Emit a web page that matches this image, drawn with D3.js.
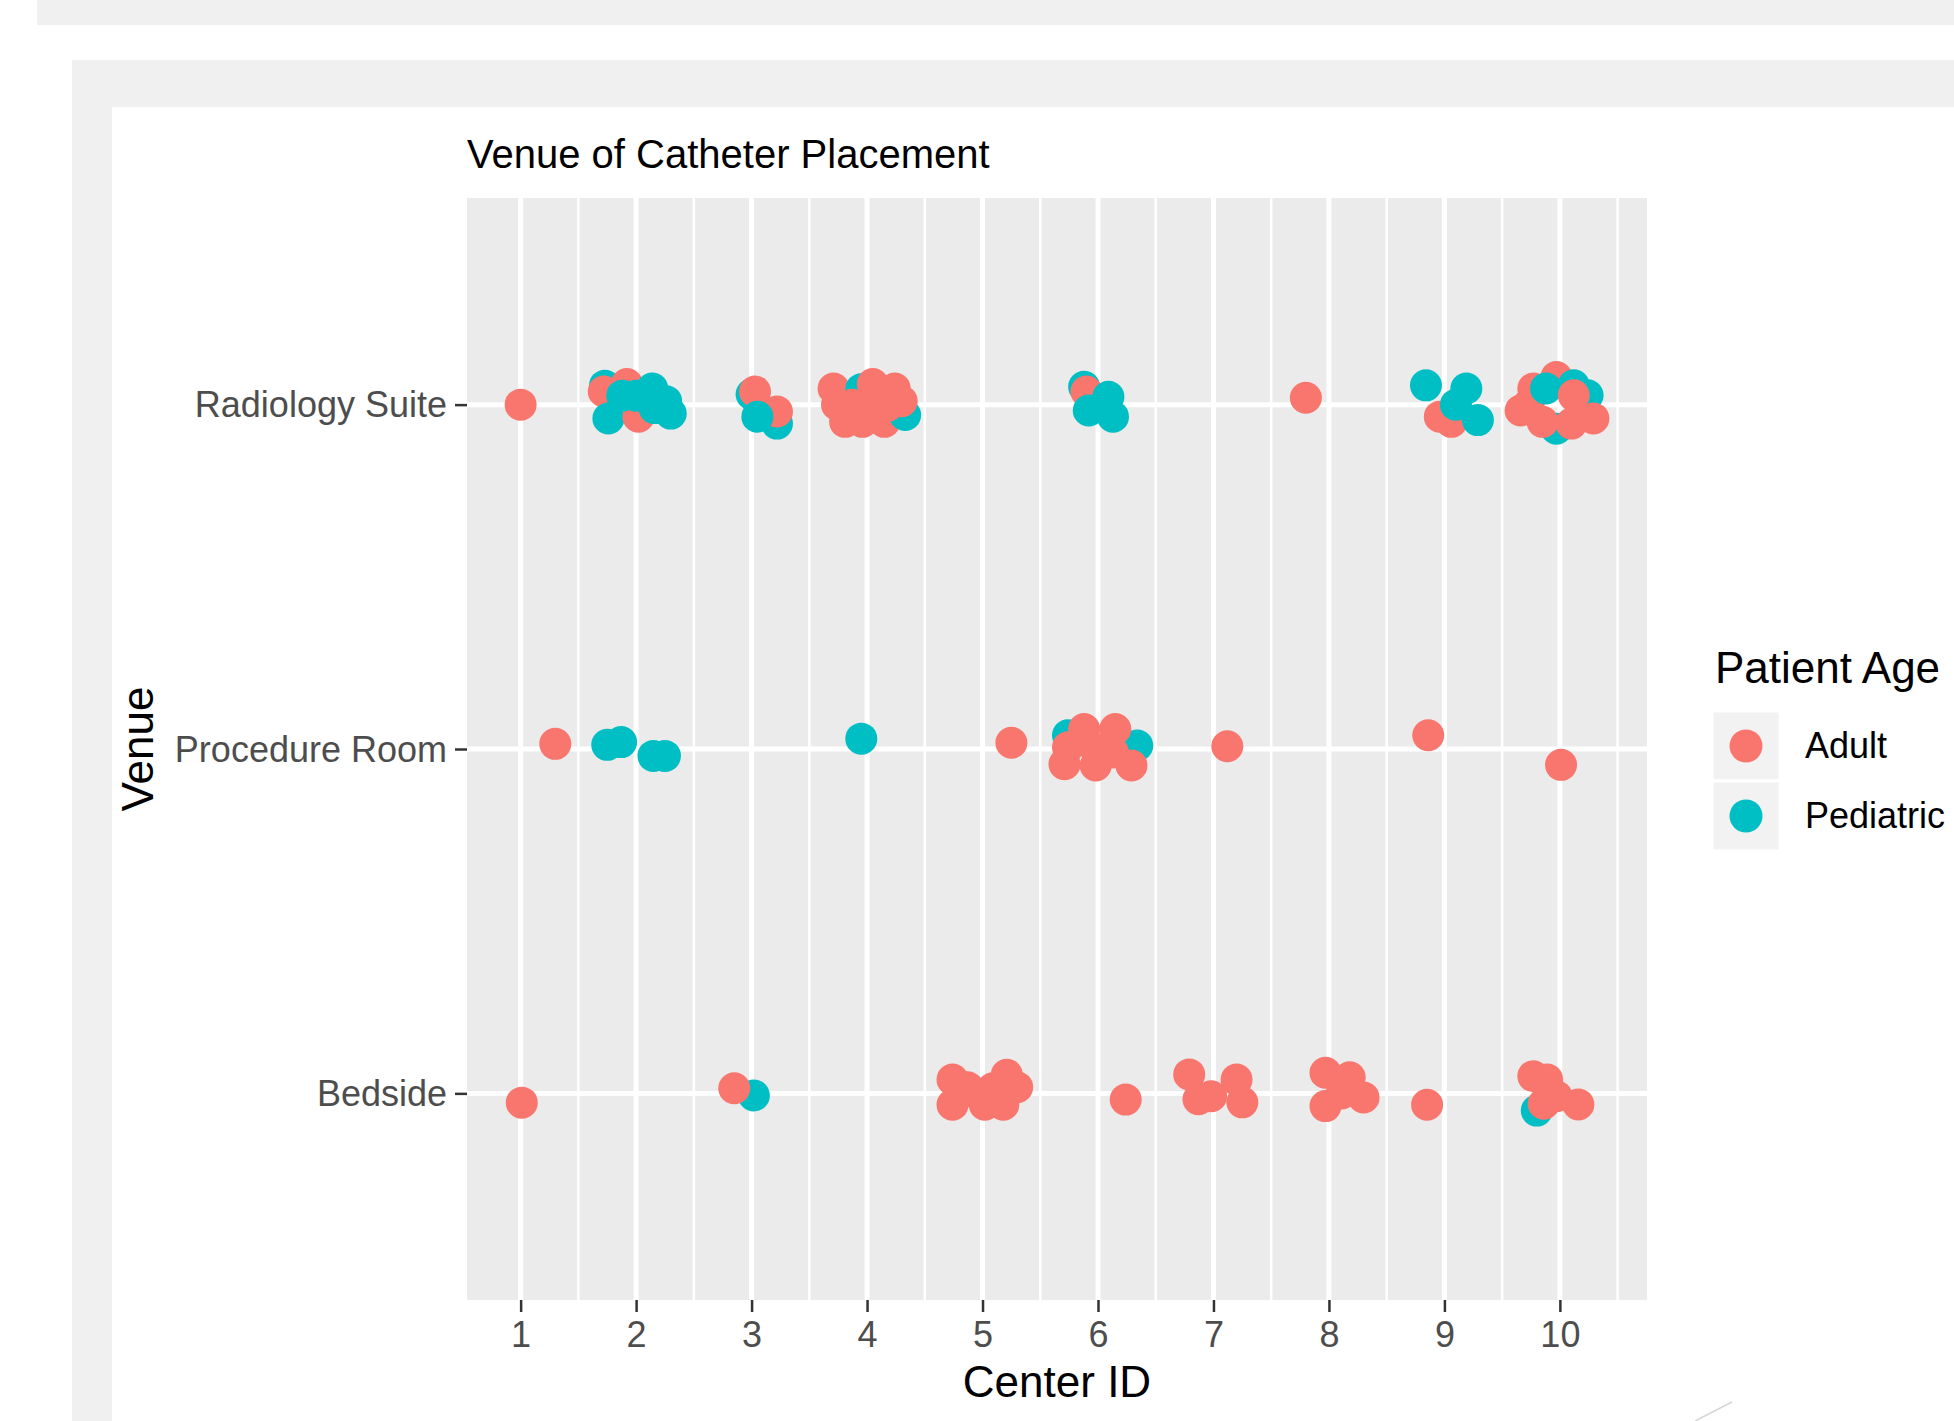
<!DOCTYPE html>
<html>
<head>
<meta charset="utf-8">
<script src="https://cdn.jsdelivr.net/npm/d3@7"></script>
<style>
body { margin: 0; background: #ffffff; }
text { font-family: "Liberation Sans", Arial, sans-serif; }
</style>
</head>
<body>
<svg id="svg1" width="1954" height="1421"></svg>
<script>
var A = 'Adult', P = 'Pediatric';

var venues = ['Bedside', 'Procedure Room', 'Radiology Suite'];
var ageGroups = [A, P];
var centerTicks = [1, 2, 3, 4, 5, 6, 7, 8, 9, 10];

// [jittered center id, vertical jitter, patient age] in drawing order
var radiologyPoints = [
    [1.00, 0.000, A],
    [1.73, 0.055, P], [1.72, 0.038, A], [1.92, 0.060, A], [1.76, -0.040, P],
    [2.02, -0.035, A], [1.88, 0.026, P], [2.00, 0.026, P], [2.14, 0.047, P],
    [2.16, -0.010, P], [2.26, 0.010, P], [2.30, -0.026, P],
    [3.00, 0.030, P], [3.03, 0.038, A], [3.22, -0.055, P], [3.22, -0.020, A], [3.05, -0.035, P],
    [3.71, 0.047, A], [3.74, 0.000, A], [3.81, -0.050, A], [3.96, -0.050, A], [4.15, -0.050, A],
    [4.33, -0.030, P], [4.30, 0.010, A], [4.24, 0.047, A], [3.95, 0.045, P],
    [4.05, 0.060, A], [4.08, 0.000, A], [3.87, 0.000, A], [4.18, -0.003, A],
    [5.88, 0.052, P], [5.90, 0.038, A], [6.09, 0.023, P], [5.92, -0.017, P], [6.13, -0.035, P],
    [7.80, 0.020, A],
    [9.06, -0.050, A], [8.96, -0.035, A], [8.84, 0.056, P], [9.19, 0.047, P],
    [9.10, 0.000, P], [9.29, -0.045, P],
    [9.97, -0.070, P], [9.66, -0.017, A], [9.73, 0.000, A], [9.77, 0.047, A],
    [9.97, 0.080, A], [10.12, 0.056, P], [10.24, 0.027, P], [9.88, 0.047, P],
    [10.12, 0.027, A], [9.85, -0.050, A], [10.10, -0.055, A], [10.29, -0.040, A]
];

var procedurePoints = [
    [1.30, 0.015, A],
    [1.75, 0.012, P], [1.87, 0.020, P], [2.15, -0.020, P], [2.25, -0.020, P],
    [3.95, 0.030, P],
    [5.25, 0.018, A],
    [5.74, 0.040, P], [6.34, 0.010, P], [5.88, 0.058, A], [6.15, 0.058, A],
    [5.74, 0.005, A], [5.71, -0.044, A], [5.98, -0.048, A], [6.29, -0.048, A],
    [6.13, -0.010, A], [5.98, 0.000, A],
    [7.12, 0.008, A],
    [8.86, 0.040, A],
    [10.01, -0.046, A]
];

var bedsidePoints = [
    [1.01, -0.027, A],
    [3.02, -0.006, P], [2.85, 0.015, A],
    [4.74, 0.040, A], [4.87, 0.018, A], [4.74, -0.033, A], [5.02, -0.033, A],
    [5.18, -0.033, A], [5.09, 0.015, A], [5.21, 0.054, A], [5.30, 0.018, A], [4.95, 0.000, A],
    [6.24, -0.018, A],
    [6.79, 0.055, A], [6.87, -0.017, A], [6.98, -0.008, A], [7.20, 0.040, A], [7.25, -0.026, A],
    [7.97, 0.060, A], [7.97, -0.037, A], [8.18, 0.047, A], [8.30, -0.012, A], [8.11, 0.000, A],
    [8.85, -0.033, A],
    [9.80, -0.050, P], [9.77, 0.050, A], [9.89, 0.040, A], [9.86, -0.030, A],
    [9.97, -0.008, A], [10.16, -0.032, A]
];

var svg = d3.select('#svg1');
var panel = { left: 467, right: 1647, top: 198, bottom: 1300 };

function toRows(list, venue) {
    var level = venues.indexOf(venue) + 1;
    return list.map(function (d) {
        return { x: d[0], y: level + d[1], age: d[2] };
    });
}

var points = toRows(bedsidePoints, 'Bedside')
    .concat(toRows(procedurePoints, 'Procedure Room'))
    .concat(toRows(radiologyPoints, 'Radiology Suite'));

// ggplot style expansion: 5% for continuous x, 0.6 for discrete y
var xExt = d3.extent(points, function (d) { return d.x; });
var xPad = (xExt[1] - xExt[0]) * 0.05;
var x = d3.scaleLinear()
    .domain([xExt[0] - xPad, xExt[1] + xPad])
    .range([panel.left, panel.right]);
var y = d3.scaleLinear()
    .domain([1 - 0.6, venues.length + 0.6])
    .range([panel.bottom, panel.top]);

var color = d3.scaleOrdinal().domain(ageGroups).range(['#F8766D', '#00BFC4']);

function drawBackground() {
    svg.append('rect').attr('x', 37).attr('y', 0).attr('width', 1917).attr('height', 25).attr('fill', '#f0f0f0');
    svg.append('rect').attr('x', 72).attr('y', 60).attr('width', 1882).attr('height', 1361).attr('fill', '#f0f0f0');
    svg.append('rect').attr('x', 112).attr('y', 107).attr('width', 1842).attr('height', 1314).attr('fill', '#ffffff');
    svg.append('line').attr('x1', 1695).attr('y1', 1421).attr('x2', 1732).attr('y2', 1402)
        .attr('stroke', '#d6d6d6').attr('stroke-width', 1.5);
}

function drawPanel() {
    svg.append('rect')
        .attr('x', panel.left)
        .attr('y', panel.top)
        .attr('width', panel.right - panel.left)
        .attr('height', panel.bottom - panel.top)
        .attr('fill', '#EBEBEB');

    var minor = d3.range(0.5, 11, 1).filter(function (v) {
        return v > x.domain()[0] && v < x.domain()[1];
    });
    svg.append('g').selectAll('line').data(minor).enter().append('line')
        .attr('x1', function (d) { return x(d); })
        .attr('x2', function (d) { return x(d); })
        .attr('y1', panel.top).attr('y2', panel.bottom)
        .attr('stroke', '#ffffff').attr('stroke-width', 2.5);

    svg.append('g').selectAll('line').data(centerTicks).enter().append('line')
        .attr('x1', function (d) { return x(d); })
        .attr('x2', function (d) { return x(d); })
        .attr('y1', panel.top).attr('y2', panel.bottom)
        .attr('stroke', '#ffffff').attr('stroke-width', 5);

    svg.append('g').selectAll('line').data([1, 2, 3]).enter().append('line')
        .attr('x1', panel.left).attr('x2', panel.right)
        .attr('y1', function (d) { return y(d); })
        .attr('y2', function (d) { return y(d); })
        .attr('stroke', '#ffffff').attr('stroke-width', 5);
}

function drawPoints() {
    svg.append('g').selectAll('circle').data(points).enter().append('circle')
        .attr('cx', function (d) { return x(d.x); })
        .attr('cy', function (d) { return y(d.y); })
        .attr('r', 16)
        .attr('fill', function (d) { return color(d.age); });
}

function styleAxis(g) {
    g.select('.domain').remove();
    g.selectAll('.tick line').attr('stroke', '#333333').attr('stroke-width', 2.5);
    g.selectAll('.tick text')
        .attr('fill', '#4D4D4D')
        .style('font-size', '36px')
        .style('font-family', '"Liberation Sans", Arial, sans-serif');
}

function drawAxes() {
    var gx = svg.append('g')
        .attr('transform', 'translate(0,' + panel.bottom + ')')
        .call(d3.axisBottom(x).tickValues(centerTicks).tickSize(12).tickPadding(9).tickFormat(d3.format('d')));
    styleAxis(gx);

    var gy = svg.append('g')
        .attr('transform', 'translate(' + panel.left + ',0)')
        .call(d3.axisLeft(y).tickValues([1, 2, 3]).tickSize(12).tickPadding(8)
            .tickFormat(function (d) { return venues[d - 1]; }));
    styleAxis(gy);
    gy.selectAll('.tick text').attr('dy', '0.34em');

    svg.append('text')
        .attr('x', (panel.left + panel.right) / 2)
        .attr('y', 1397)
        .attr('text-anchor', 'middle')
        .style('font-size', '44px')
        .attr('fill', '#000')
        .text('Center ID');

    svg.append('text')
        .attr('transform', 'translate(153,' + ((panel.top + panel.bottom) / 2) + ') rotate(-90)')
        .attr('text-anchor', 'middle')
        .style('font-size', '44px')
        .attr('fill', '#000')
        .text('Venue');

    svg.append('text')
        .attr('x', panel.left)
        .attr('y', 168)
        .style('font-size', '40px')
        .attr('fill', '#000')
        .text('Venue of Catheter Placement');
}

function drawLegend() {
    svg.append('text')
        .attr('x', 1715)
        .attr('y', 683)
        .style('font-size', '44px')
        .attr('fill', '#000')
        .text('Patient Age');

    var key = svg.append('g').selectAll('g').data(ageGroups).enter().append('g')
        .attr('transform', function (d, i) { return 'translate(1712,' + (711 + i * 70) + ')'; });
    key.append('rect')
        .attr('width', 68).attr('height', 70)
        .attr('fill', '#F2F2F2')
        .attr('stroke', '#ffffff').attr('stroke-width', 3);
    key.append('circle')
        .attr('cx', 34).attr('cy', 35).attr('r', 16.5)
        .attr('fill', function (d) { return color(d); });
    key.append('text')
        .attr('x', 93).attr('y', 47)
        .style('font-size', '36px')
        .attr('fill', '#000')
        .text(function (d) { return d; });
}

drawBackground();
drawPanel();
drawPoints();
drawAxes();
drawLegend();
</script>
</body>
</html>
